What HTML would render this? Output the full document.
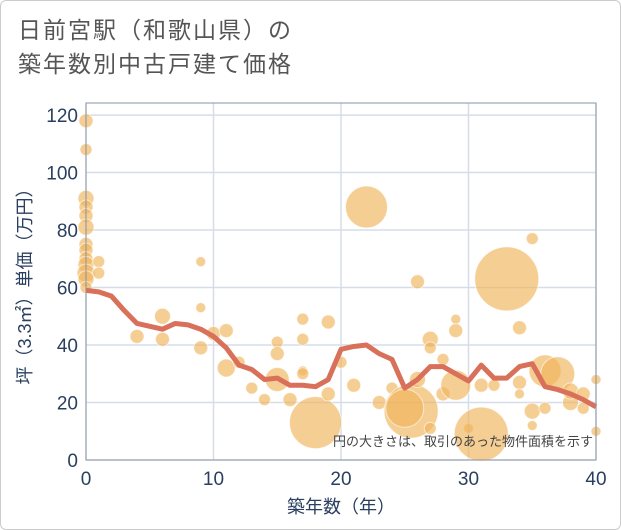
<!DOCTYPE html>
<html><head><meta charset="utf-8"><style>
html,body{margin:0;padding:0;background:#fff;}
body{width:621px;height:530px;overflow:hidden;font-family:"Liberation Sans","Noto Sans CJK JP",sans-serif;}
#frame{position:absolute;left:0;top:0;width:619px;height:528px;border:1px solid #ccc;border-radius:6px;}
#title{position:absolute;left:18px;top:13px;font-size:23px;line-height:34px;color:#555;letter-spacing:2px;}
</style></head><body>
<div id="frame"></div>
<div id="title">日前宮駅（和歌山県）の<br>築年数別中古戸建て価格</div>
<svg id="chart" width="621" height="530" style="position:absolute;left:0;top:0"></svg>
<script>
const xTicks=[0,10,20,30,40];
const yTicks=[0,20,40,60,80,100,120];
const lineAges=[0,1,2,3,4,5,6,7,8,9,10,11,12,13,14,15,16,17,18,19,20,21,22,23,24,25,26,27,28,29,30,31,32,33,34,35,36,37,38,39,40];
const lineValues=[59,58.5,57,52,47.5,46.5,45.5,47.5,47,45.5,43,39,33,31.5,28,28.5,26,26,25.5,28,38.5,39.5,40,37,35,25,28,32.5,32.5,30,27.5,33,28.5,28.5,32.5,33.5,25.5,24.5,23,21,18.5];
const bubbleAges=[0,0,0,0,0,0,0,0,0,0,0,0,0,1,1,4,6,6,9,9,9,10,11,11,12,13,14,15,15,15,16,17,17,17,17,18,19,19,20,21,22,23,24,25.5,25,26,26,27,27,27,28,28,29,29,29,30,31,31,32,33,34,34,34,35,35,35,36,36,37,38,38,39,39,40,40];
const bubbleValues=[118,108,91,88,85,81,75,73,70,68,65,63,60,69,65,43,50,42,69,53,39,44,45,32,34,25,21,41,37,28,21,49,42,31,30,13,48,23,34,26,88,20,25,17,18,62,28,42,39,11,35,23,49,45,26,11,9,26,26,63,46,27,23,77,17,12,31,18,30,20,24,23,18,28,10];
const bubbleSizes=[7,6,8,7,7,8,7,7,7,8,9,8,6,6,6,7,8,7,5,5,7,7,7,9,6,6,6,6,7,12,7,6,6,5,6,26,7,7,6,7,21,7,6,27,19,7,8,8,6,6,6,7,5,7,15,5,27,7,6,32,7,7,5,6,8,5,16,6,17,8,8,7,6,5,5];
const L=86,R=596,T=103,B=460;
const xs=v=>L+(v/40)*(R-L);
const ys=v=>B-(v/124.2)*(B-T);
const NS='http://www.w3.org/2000/svg';
const svg=document.getElementById('chart');
function mk(t,a,p){const e=document.createElementNS(NS,t);for(const k in a)e.setAttribute(k,a[k]);(p||svg).appendChild(e);return e;}
const grid=mk('g',{});


yTicks.forEach(v=>{
 const l=mk('line',{x1:L,x2:R,y1:ys(v),y2:ys(v),stroke:'#d5dde8','stroke-width':1.5},grid);
 
 
 const t=mk('text',{x:L-8,y:ys(v)+7,'text-anchor':'end','font-size':19,fill:'#2a3f5f'});
 t.textContent=v;
 
 
});
xTicks.forEach(v=>{
 const l=mk('line',{x1:xs(v),x2:xs(v),y1:T,y2:B,stroke:'#d5dde8','stroke-width':1.5},grid);
 
 
 const t=mk('text',{x:xs(v),y:B+25,'text-anchor':'middle','font-size':19,fill:'#2a3f5f'});
 t.textContent=v;
 
 
});
const bg=mk('g',{});


bubbleAges.forEach((a,i)=>{
 const c=mk('circle',{cx:xs(a),cy:ys(bubbleValues[i]),r:bubbleSizes[i],fill:'rgba(240,180,90,0.65)',stroke:'rgba(255,255,255,0.6)','stroke-width':1},bg);
 
 
});
const p=mk('path',{d:lineAges.map((a,i)=>(i?'L':'M')+xs(a)+','+ys(lineValues[i])).join(''),fill:'none',stroke:'#d9705a','stroke-width':5,'stroke-linejoin':'round'});


const ax=mk('path',{d:`M${L},${T}V${B}H${R}V${T}Z`,fill:'none',stroke:'#8a96a8','stroke-width':1});


const note=mk('text',{x:R-3,y:446,'text-anchor':'end','font-size':13,fill:'#444'});
note.textContent='円の大きさは、取引のあった物件面積を示す';


const xt=mk('text',{x:(L+R)/2,y:513,'text-anchor':'middle','font-size':18,fill:'#2a3f5f'});
xt.textContent='築年数（年）';


const yt=mk('text',{x:0,y:0,'text-anchor':'middle','font-size':18,fill:'#2a3f5f',transform:'translate(31,282) rotate(-90)'});
yt.textContent='坪（3.3㎡）単価（万円）';


</script>
</body></html>
